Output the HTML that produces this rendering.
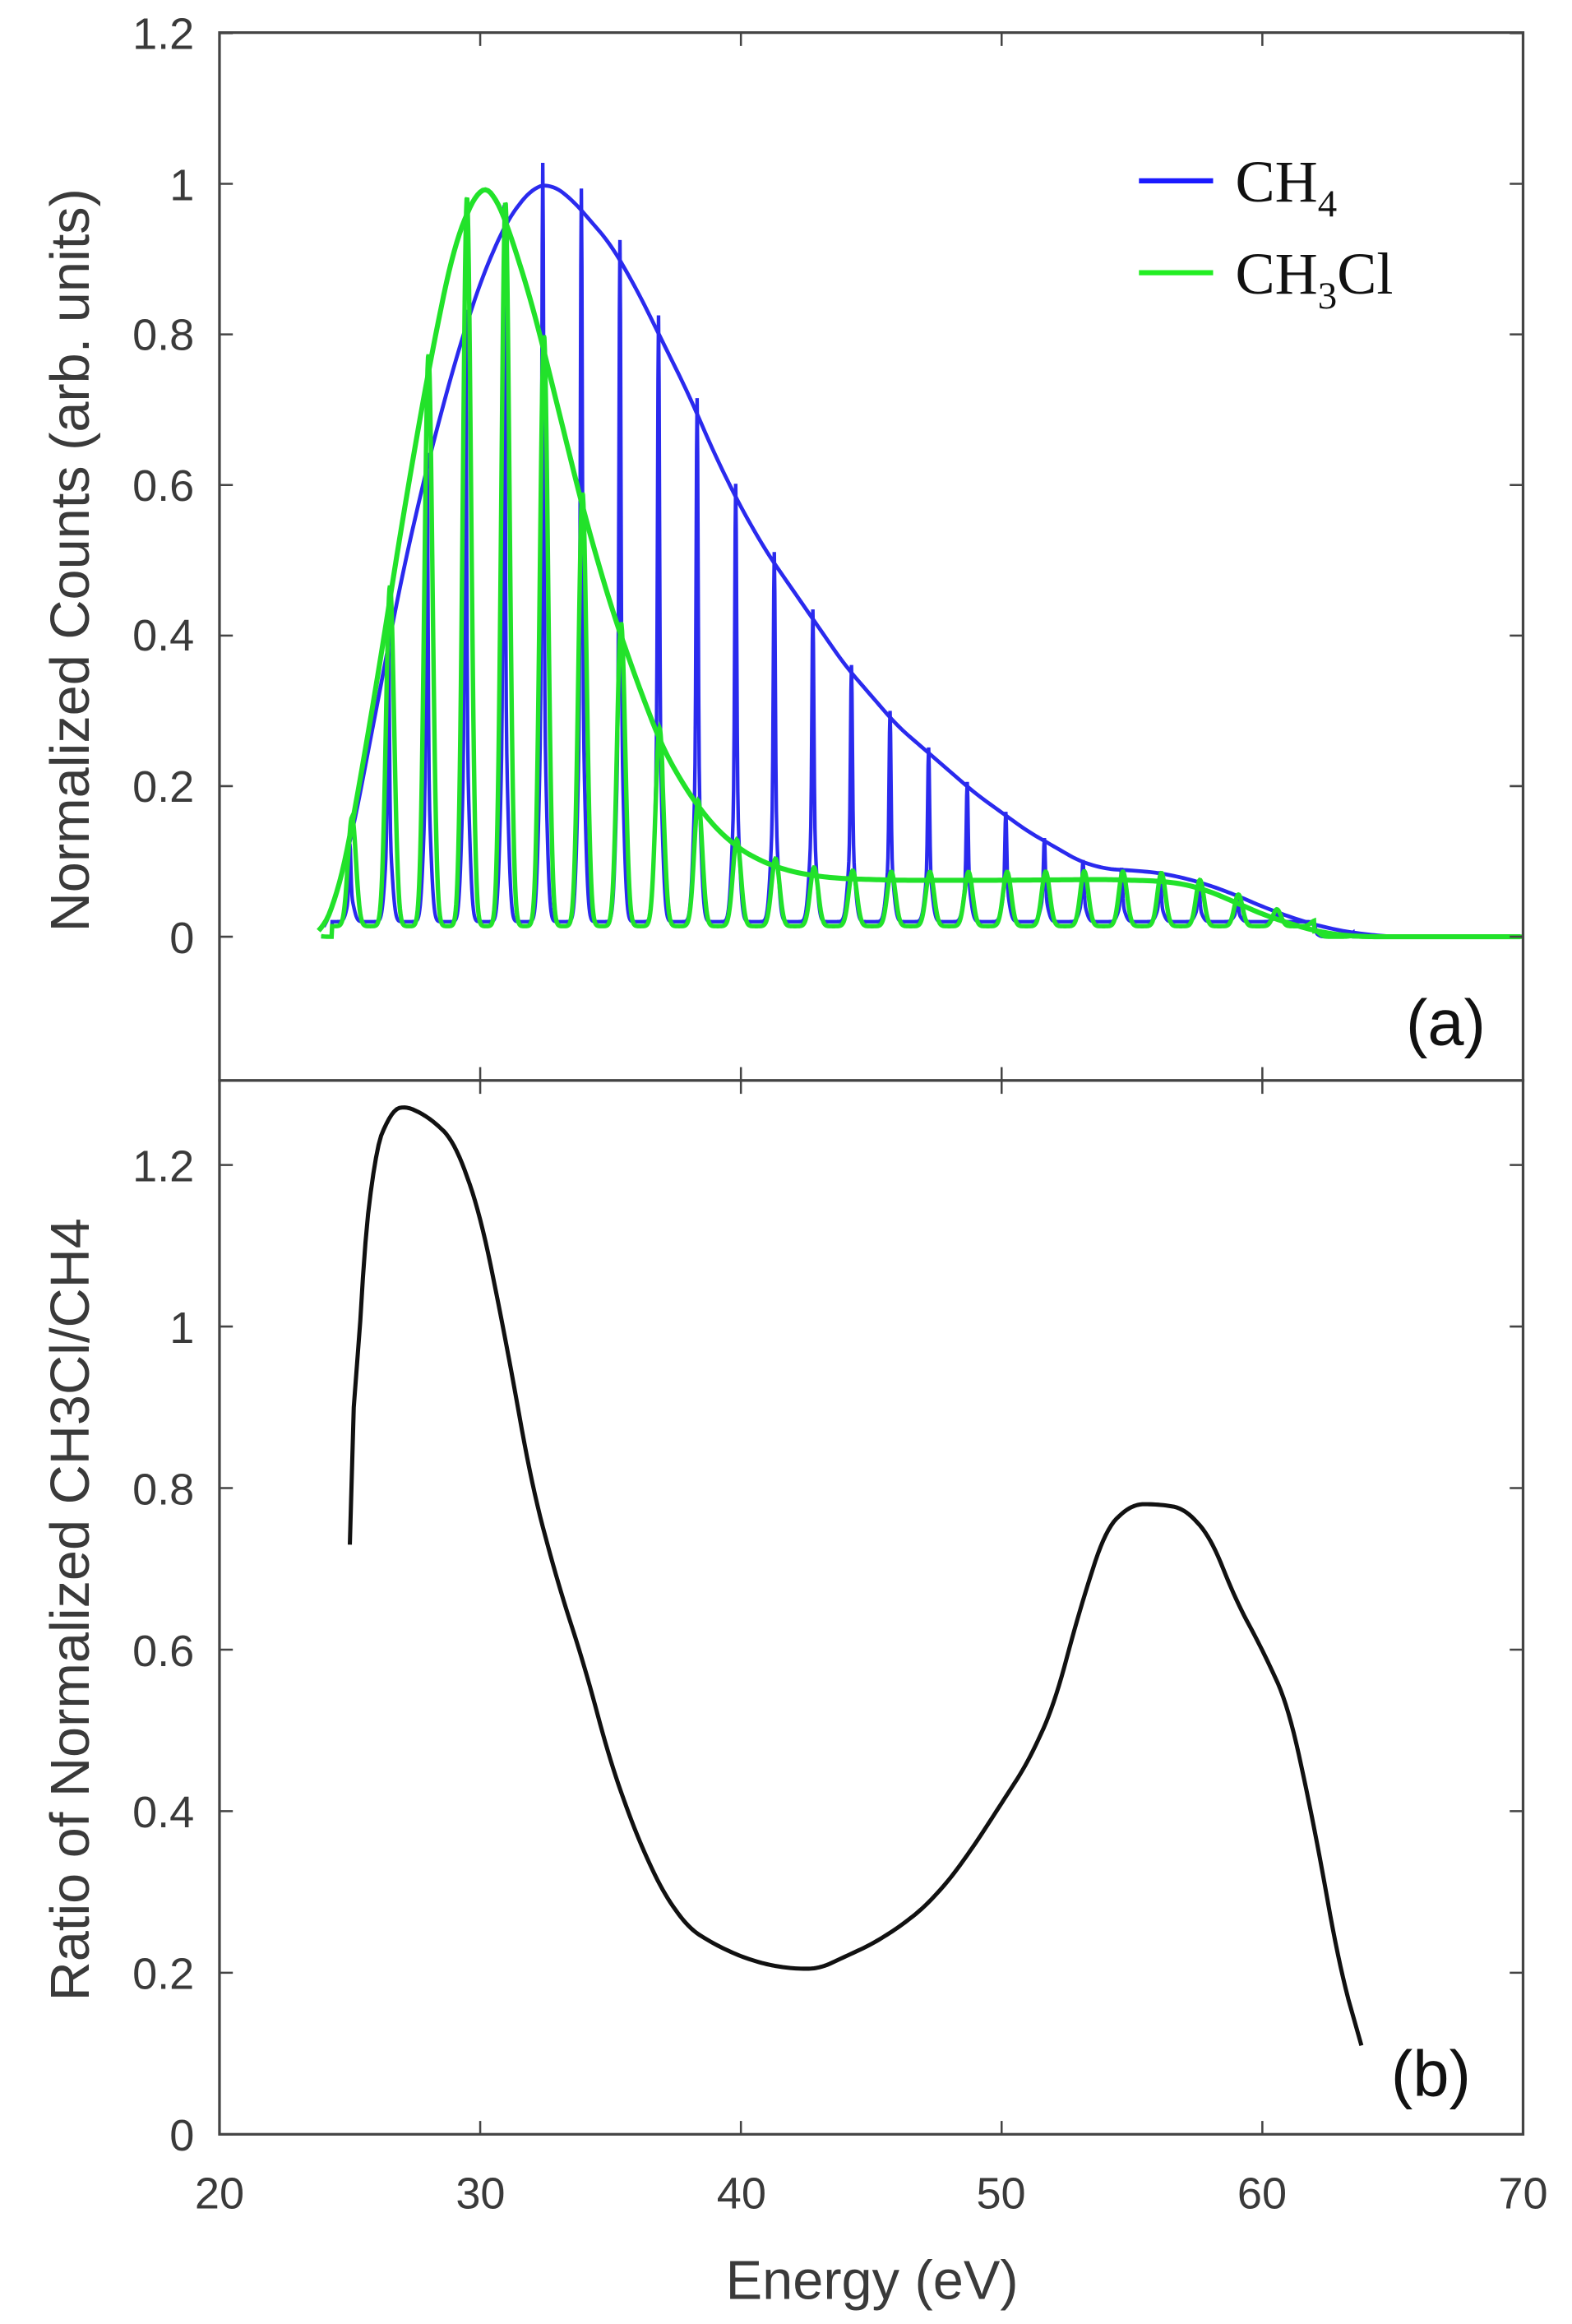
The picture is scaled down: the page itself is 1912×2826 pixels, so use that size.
<!DOCTYPE html>
<html><head><meta charset="utf-8"><style>
html,body{margin:0;padding:0;background:#fff;}
svg{display:block;}
text{font-family:"Liberation Sans",sans-serif;fill:#3a3a3a;}
.leg{font-family:"Liberation Serif",serif;fill:#111;}
.lab{font-family:"Liberation Sans",sans-serif;fill:#111;}
</style></head><body>
<svg id="s" width="1912" height="2826" viewBox="0 0 1060 1568" preserveAspectRatio="none" xmlns="http://www.w3.org/2000/svg">
<rect width="1060" height="1568" fill="#fff"/>
<g id="plots"></g>
<rect x="148" y="22" width="879" height="707" fill="none" stroke="#444" stroke-width="1.8"/>
<rect x="148" y="729" width="879" height="711" fill="none" stroke="#444" stroke-width="1.8"/>
<g id="ticks" stroke="#444" stroke-width="1.4"></g>
<g font-size="30" text-anchor="end">
<text x="131" y="33">1.2</text><text x="131" y="135">1</text><text x="131" y="236">0.8</text><text x="131" y="338">0.6</text><text x="131" y="439">0.4</text><text x="131" y="541">0.2</text><text x="131" y="643">0</text>
<text x="131" y="797">1.2</text><text x="131" y="906">1</text><text x="131" y="1015">0.8</text><text x="131" y="1124">0.6</text><text x="131" y="1233">0.4</text><text x="131" y="1342">0.2</text><text x="131" y="1451">0</text>
</g>
<g font-size="30" text-anchor="middle">
<text x="148" y="1490">20</text><text x="324" y="1490">30</text><text x="500" y="1490">40</text><text x="675" y="1490">50</text><text x="851" y="1490">60</text><text x="1027" y="1490">70</text>
</g>
<text x="588" y="1551" font-size="37" text-anchor="middle">Energy (eV)</text>
<text transform="translate(60,378) rotate(-90)" font-size="37" text-anchor="middle">Normalized Counts (arb. units)</text>
<text transform="translate(60,1086) rotate(-90)" font-size="37" text-anchor="middle">Ratio of Normalized CH3Cl/CH4</text>
<line x1="768" y1="122" x2="818" y2="122" stroke="#1a1aff" stroke-width="3.5"/>
<line x1="768" y1="184" x2="818" y2="184" stroke="#22ee22" stroke-width="3.5"/>
<text class="leg" x="833" y="136" font-size="40">CH<tspan font-size="26" dy="10">4</tspan></text>
<text class="leg" x="833" y="198" font-size="40">CH<tspan font-size="26" dy="10">3</tspan><tspan dy="-10">Cl</tspan></text>
<text class="lab" x="948" y="705" font-size="44">(a)</text>
<text class="lab" x="938" y="1414" font-size="44">(b)</text>
</svg>
<script>
const X=e=>148+(e-20)*17.58, YA=v=>632-v*508, YB=v=>1440-v*545;
function interp(pts,e){if(e<=pts[0][0])return pts[0][1];for(let i=1;i<pts.length;i++){if(e<=pts[i][0]){const a=pts[i-1],b=pts[i];return a[1]+(b[1]-a[1])*(e-a[0])/(b[0]-a[0]);}}return pts[pts.length-1][1];}
const blueEnv=[[24,0],[25,0.12],[26,0.3],[27,0.48],[28,0.63],[29,0.76],[30,0.87],[31,0.95],[32,0.995],[32.7,1.0],[33.5,0.98],[35,0.92],[36,0.86],[37,0.79],[38,0.72],[39,0.64],[40,0.57],[41,0.51],[42,0.46],[43,0.41],[44,0.36],[45,0.32],[46,0.28],[47,0.25],[48,0.22],[49,0.19],[50,0.165],[51,0.14],[52,0.12],[53,0.1],[54,0.09],[55,0.088],[56,0.085],[57,0.078],[58,0.068],[59,0.055],[60,0.04],[61,0.027],[62,0.016],[63,0.008],[64,0.003],[65,0.0],[70,0]];
const greenEnv=[[23.8,0],[24.5,0.05],[25,0.13],[26,0.33],[27,0.55],[28,0.75],[29,0.92],[30,1.0],[30.5,0.99],[31,0.95],[32,0.84],[33,0.7],[34,0.56],[35,0.44],[36,0.34],[37,0.25],[38,0.19],[39,0.145],[40,0.115],[41,0.097],[42,0.086],[43,0.08],[44,0.077],[46,0.075],[50,0.075],[54,0.076],[56,0.074],[57,0.07],[58,0.06],[59,0.045],[60,0.03],[61,0.018],[62,0.008],[63,0.002],[64,0],[70,0]];
const ratio=[[25,0.73],[25.3,1.0],[25.8,1.2],[26.5,1.265],[27,1.275],[28,1.26],[29,1.23],[30,1.14],[31,0.98],[32,0.8],[33,0.68],[34,0.58],[35,0.46],[36,0.37],[37,0.3],[38,0.255],[39,0.235],[40,0.22],[41,0.21],[42,0.205],[43,0.205],[44,0.22],[45,0.235],[46,0.255],[47,0.28],[48,0.315],[49,0.36],[50,0.41],[51,0.46],[52,0.53],[53,0.65],[54,0.75],[55,0.78],[56,0.78],[57,0.775],[58,0.74],[59,0.66],[60,0.6],[61,0.53],[62,0.38],[63,0.2],[63.8,0.11]];
function smooth(pts){const o=[];for(let e=pts[0][0];e<=pts[pts.length-1][0];e+=0.1){let s=0,n=0;for(let d=-0.4;d<=0.41;d+=0.1){s+=interp(pts,Math.min(Math.max(e+d,pts[0][0]),pts[pts.length-1][0]));n++;}o.push([e,s/n]);}return o;}
const period=1.48, c0=24.95;
function comb(e,w){const k=Math.round((e-c0)/period);const c=c0+k*period;return Math.exp(-Math.pow((e-c)/w,2));}
let bs="",gs="",be="",ge="";
for(let e=23.9;e<=70;e+=0.02){
 const bv=interp(blueEnv,e), gv=interp(greenEnv,e);
 const base=(e>24.3&&e<62)?0.02:0;
 const bsp=e<63.5?base+(bv*1.03-base)*(0.7*comb(e-0.05,0.05)+0.3*comb(e-0.05,0.18)):0;
 const gsp=e<64?base*0.7+(gv*0.99)*comb(e-0.1,0.22)*(e<37?1.02:0.97):0;
 bs+=(bs?"L":"M")+X(e).toFixed(2)+","+YA(Math.max(0,bsp)).toFixed(2);
 gs+=(gs?"L":"M")+X(e).toFixed(2)+","+YA(Math.max(0,gsp)).toFixed(2);
}
const sb=smooth(blueEnv), sg=smooth(greenEnv), sr=smooth(ratio);
sb.forEach(p=>be+=(be?"L":"M")+X(p[0]).toFixed(2)+","+YA(p[1]).toFixed(2));
sg.forEach(p=>ge+=(ge?"L":"M")+X(p[0]).toFixed(2)+","+YA(p[1]).toFixed(2));
let rs="";const r2=[[25,0.73],[25.15,0.9]].concat(sr.filter(p=>p[0]>25.4&&p[0]<63.4)).concat([[63.8,0.11]]);
r2.forEach(p=>rs+=(rs?"L":"M")+X(p[0]).toFixed(2)+","+YB(p[1]).toFixed(2));
document.getElementById("plots").innerHTML=
 '<path d="'+bs+'" fill="none" stroke="#2a2aee" stroke-width="2.4"/>'+
 '<path d="'+be+'" fill="none" stroke="#2a2aee" stroke-width="2.6"/>'+
 '<path d="'+gs+'" fill="none" stroke="#22e22a" stroke-width="3"/>'+
 '<path d="'+ge+'" fill="none" stroke="#22e22a" stroke-width="3.4"/>'+
 '<path d="'+rs+'" fill="none" stroke="#111" stroke-width="2.8" stroke-linejoin="round"/>';
let t="";
[30,40,50,60].forEach(e=>{const x=X(e);t+=`<line x1="${x}" y1="22" x2="${x}" y2="31"/><line x1="${x}" y1="729" x2="${x}" y2="720"/><line x1="${x}" y1="729" x2="${x}" y2="738"/><line x1="${x}" y1="1440" x2="${x}" y2="1431"/>`;});
[0,0.2,0.4,0.6,0.8,1,1.2].forEach(v=>{const y=YA(v);t+=`<line x1="148" y1="${y}" x2="157" y2="${y}"/><line x1="1027" y1="${y}" x2="1018" y2="${y}"/>`;const y2=YB(v);t+=`<line x1="148" y1="${y2}" x2="157" y2="${y2}"/><line x1="1027" y1="${y2}" x2="1018" y2="${y2}"/>`;});
document.getElementById("ticks").innerHTML=t;
</script>
</body></html>
